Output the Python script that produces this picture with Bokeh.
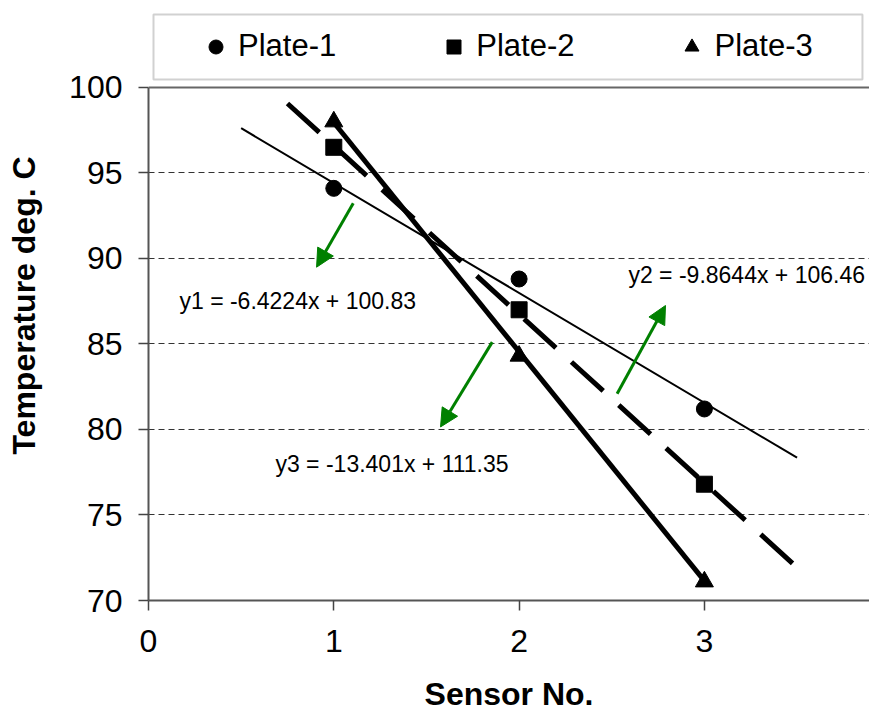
from bokeh.plotting import figure
from bokeh.models import (Range1d, FixedTicker, Legend, LegendItem, Label,
                          Arrow, NormalHead, BoxAnnotation, Span)
from bokeh.embed import file_html
from bokeh.resources import INLINE

# ---- data ----
sensors = [1, 2, 3]
plate1 = [94.1, 88.8, 81.2]
plate2 = [96.5, 87.0, 76.8]
plate3 = [98.0, 84.3, 71.1]
series_names = ["Plate-1", "Plate-2", "Plate-3"]

# trendline equations shown on the chart
trend_labels = ["y1 = -6.4224x + 100.83", "y2 = -9.8644x + 106.46", "y3 = -13.401x + 111.35"]
slopes = [-6.4224, -9.8644, -13.401]
intercepts = [100.83, 106.46, 111.35]
trend_x_start = [0.5, 0.75, 1.0]
trend_x_end = [3.5, 3.5, 3.0]

x_ticks = [0, 1, 2, 3]
y_ticks = [70, 75, 80, 85, 90, 95, 100]
grid_ticks = [75, 80, 85, 90, 95]
y_min, y_max = 70, 100

# annotation positions (data units)
eq_x = [0.167, 2.590, 0.685]
eq_y = [87.49, 89.05, 78.01]
arrow_x_start = [1.105, 2.529, 1.855]
arrow_y_start = [93.23, 82.09, 85.11]
arrow_x_end = [0.907, 2.790, 1.576]
arrow_y_end = [89.49, 87.25, 80.15]

FONT = "Liberation Sans"

# the frame extends above 100 to hold the legend box; the y axis is bounded to 70..100
p = figure(width=869, height=722, x_range=Range1d(0, 3.891), y_range=Range1d(y_min, 104.5),
           output_backend="svg", toolbar_location=None, title=None,
           min_border_left=148, min_border_right=0, min_border_top=10, min_border_bottom=122)
p.background_fill_color = "white"
p.border_fill_color = "white"
p.outline_line_color = None

# trend lines
tstyles = [dict(line_width=2, line_dash="solid"),
           dict(line_width=5, line_dash="43 21"),
           dict(line_width=5, line_dash="solid")]
for m, b, xs0, xs1, st in zip(slopes, intercepts, trend_x_start, trend_x_end, tstyles):
    xs = [xs0, xs1]
    ys = [m * xs0 + b, m * xs1 + b]
    p.line(xs, ys, line_color="black", **st)

r1 = p.scatter(sensors, plate1, marker="circle", size=16, color="black")
r2 = p.scatter(sensors, plate2, marker="square", size=16, color="black")
r3 = p.scatter(sensors, plate3, marker="triangle", size=18, color="black")

# equation labels
for t, x, y in zip(trend_labels, eq_x, eq_y):
    p.add_layout(Label(x=x, y=y, text=t, text_font=FONT, text_font_size="23px",
                       text_color="black", text_align="left", text_baseline="alphabetic"))

# green arrows
for xs, ys, xe, ye in zip(arrow_x_start, arrow_y_start, arrow_x_end, arrow_y_end):
    p.add_layout(Arrow(x_start=xs, y_start=ys, x_end=xe, y_end=ye,
                       line_color="#008000", line_width=3,
                       end=NormalHead(size=18, fill_color="#008000", line_color="#008000", line_width=1)))

# axes
for ax, ticks in ((p.xaxis, x_ticks), (p.yaxis, y_ticks)):
    ax.ticker = FixedTicker(ticks=ticks)
    ax.major_label_text_font = FONT
    ax.major_label_text_font_size = "32px"
    ax.major_label_text_color = "black"
    ax.axis_line_color = "#555555"
    ax.axis_line_width = 2
    ax.major_tick_line_color = "#444444"
    ax.major_tick_line_width = 1.5
    ax.major_tick_out = 10
    ax.major_tick_in = 0
    ax.minor_tick_out = 0
    ax.minor_tick_in = 0
    ax.axis_label_text_font = FONT
    ax.axis_label_text_font_size = "32px"
    ax.axis_label_text_font_style = "bold"
    ax.axis_label_text_color = "black"

p.yaxis.bounds = (y_min, y_max)
p.xaxis.axis_label = "Sensor No."
p.yaxis.axis_label = "Temperature deg. C"
p.xaxis.major_label_standoff = 19
p.xaxis.axis_label_standoff = 21
p.yaxis.major_label_standoff = 16
p.yaxis.axis_label_standoff = 24

p.xgrid.visible = False
p.ygrid.ticker = FixedTicker(ticks=grid_ticks)
p.ygrid.grid_line_color = "#333333"
p.ygrid.grid_line_width = 1
p.ygrid.grid_line_dash = "6 4"

# top border of the plotting area at 100
p.add_layout(Span(location=y_max, dimension="width", line_color="#666666", line_width=2))

# legend box and legend
p.add_layout(BoxAnnotation(left=0.027, right=3.853, bottom=100.47, top=104.27,
                           fill_color="white", fill_alpha=1.0,
                           line_color="#666666", line_width=2))
legend = Legend(items=[LegendItem(label=n, renderers=[r]) for n, r in zip(series_names, [r1, r2, r3])],
                orientation="horizontal", location=(50, 536),
                label_text_font=FONT, label_text_font_size="31px", label_text_color="black",
                glyph_width=35, glyph_height=35, label_standoff=5, spacing=100,
                padding=0, margin=0, border_line_alpha=0, background_fill_alpha=0)
p.add_layout(legend)

open("out.html", "w").write(file_html(p, INLINE))
